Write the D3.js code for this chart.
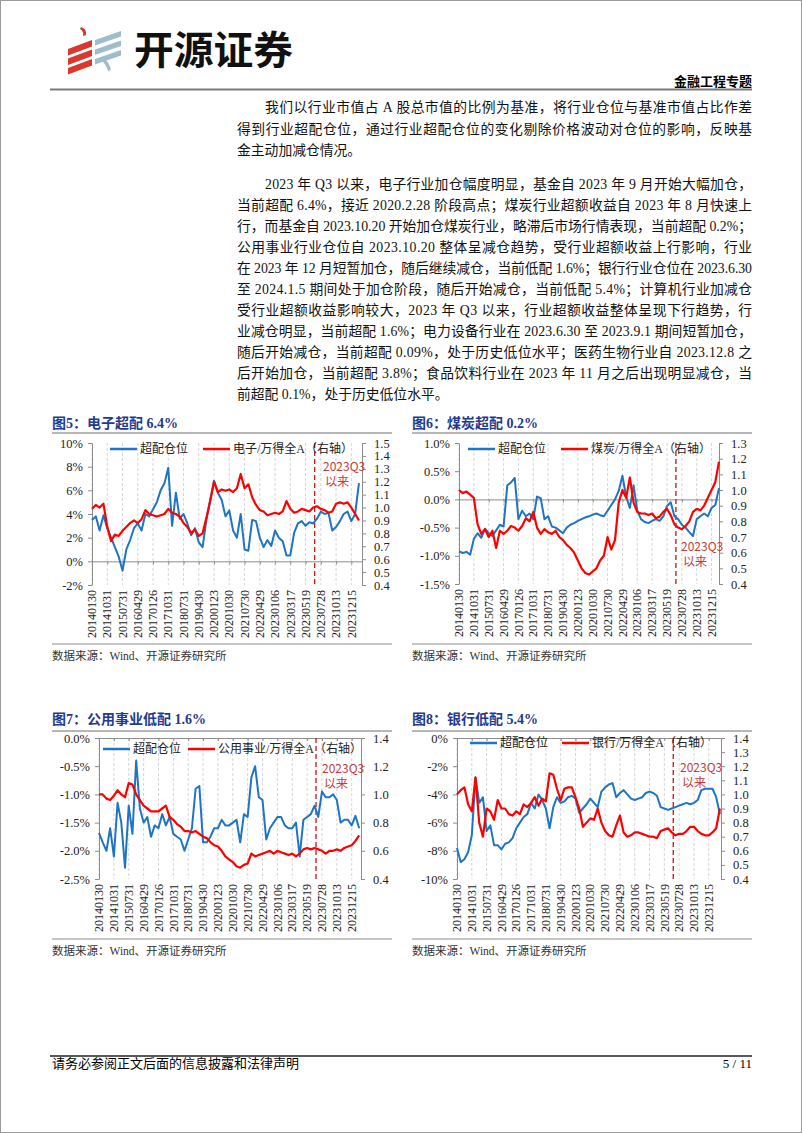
<!DOCTYPE html>
<html>
<head>
<meta charset="utf-8">
<style>
  body { margin: 0; background: #fff; }
  svg { display: block; font-family: "Liberation Serif", "Noto Sans CJK SC", serif; }
  .body-text { font-size: 13.8px; fill: #111; }
  .fig-title { font-family: "Liberation Serif", "Noto Sans CJK SC", serif; font-size: 14px; font-weight: bold; fill: #1f3a8f; }
  .axis .domain, .axis .tick line { stroke: #8c8c8c; }
  .axis .tick text { font-family: "Liberation Serif", serif; font-size: 12.5px; fill: #222; }
  .xlab { font-family: "Liberation Serif", serif; font-size: 12px; fill: #222; }
  .legend { font-size: 12px; fill: #222; }
  .note { font-family: "Noto Sans CJK SC", sans-serif; font-size: 12px; fill: #c43b3b; }
  .source { font-size: 11.5px; fill: #333; }
</style>
</head>
<body>
<svg width="802" height="1133"></svg>
<script src="https://cdn.jsdelivr.net/npm/d3@7"></script>
<script>
// category labels (every 4th point)
const xLabels = ["20140130", "20141031", "20150731", "20160429", "20170126", "20171031",
  "20180731", "20190430", "20200123", "20201030", "20210730", "20220429",
  "20230106", "20230317", "20230519", "20230728", "20231013", "20231215"];
const q3Index = 58.4; // 20230630

// 图5 电子
const elecPos = [3.5,3.8,2.6,3.9,2.8,2.0,1.2,0.4,-0.8,1.0,1.8,2.8,3.2,2.6,4.0,3.8,4.4,5.0,6.0,6.6,
  7.9,3.0,5.8,3.6,4.0,3.2,2.2,2.8,1.6,1.2,3.5,5.2,6.8,5.8,5.2,3.8,4.3,2.6,2.0,4.0,
  1.0,0.9,3.5,3.4,2.0,1.2,1.8,1.3,2.6,2.0,1.7,0.5,0.5,2.4,3.2,3.4,3.0,3.3,3.2,3.6,
  4.2,4.0,4.1,2.6,2.9,3.4,4.0,4.2,3.4,4.0,6.6];
const elecRel = [0.99,1.02,1.0,1.03,0.85,0.74,0.79,0.78,0.82,0.85,0.88,0.9,0.88,0.91,0.98,0.95,0.94,0.93,0.94,0.95,
  0.99,0.96,0.95,0.93,0.88,0.85,0.8,0.83,0.78,0.8,0.92,1.05,1.2,1.12,1.14,1.13,1.14,1.12,1.15,1.26,
  1.15,1.18,1.08,1.02,0.98,0.97,0.94,0.95,0.96,0.95,0.97,1.05,0.99,0.96,0.97,0.99,0.98,0.97,1.0,1.01,
  0.99,0.98,0.96,0.97,1.03,1.04,1.03,1.04,1.0,0.95,0.9];

// 图6 煤炭
const coalPos = [-0.92,-0.95,-0.93,-0.98,-0.7,-0.6,-0.68,-0.52,-0.6,-0.65,-0.55,-0.45,-0.48,0.25,0.3,0.38,-0.35,-0.2,-0.3,-0.25,
  -0.35,0.05,0.02,-0.35,-0.3,-0.48,-0.5,-0.55,-0.6,-0.5,-0.45,-0.42,-0.38,-0.35,-0.32,-0.3,-0.27,-0.25,-0.28,-0.3,
  -0.2,-0.1,0.0,0.15,0.42,0.05,-0.15,0.25,-0.2,-0.35,-0.4,-0.42,-0.38,-0.35,-0.38,-0.3,-0.12,-0.05,-0.3,-0.35,
  -0.45,-0.5,-0.58,-0.65,-0.35,-0.3,-0.25,-0.3,-0.15,-0.1,0.2];
const coalRel = [1.0,0.98,0.99,0.97,0.95,0.78,0.72,0.75,0.7,0.74,0.63,0.74,0.72,0.74,0.77,0.76,0.74,0.77,0.82,0.8,
  0.86,0.76,0.72,0.75,0.73,0.72,0.74,0.7,0.68,0.65,0.63,0.6,0.55,0.5,0.47,0.46,0.48,0.5,0.55,0.58,
  0.7,0.62,0.68,0.92,1.0,0.95,1.08,0.92,0.86,0.85,0.85,0.84,0.85,0.82,0.83,0.86,0.88,0.84,0.78,0.76,
  0.75,0.77,0.8,0.86,0.88,0.87,0.9,0.95,1.0,1.05,1.18];

// 图7 公用事业
const utilPos = [-1.68,-1.85,-2.0,-1.6,-2.1,-1.15,-1.5,-2.3,-1.2,-1.7,-0.4,-1.25,-1.5,-1.4,-1.75,-1.55,-1.6,-1.35,-1.55,-1.4,
  -1.7,-1.75,-1.8,-2.0,-1.8,-1.6,-0.9,-0.85,-1.85,-1.85,-1.75,-1.6,-1.6,-1.45,-1.55,-1.55,-1.5,-1.45,-1.85,-1.35,
  -1.4,-0.7,-0.5,-1.05,-1.1,-1.8,-1.6,-1.5,-1.4,-1.4,-1.55,-1.6,-1.6,-1.5,-2.1,-1.45,-1.4,-1.35,-1.2,-1.4,
  -0.95,-1.05,-1.05,-1.0,-1.1,-1.5,-1.45,-1.45,-1.55,-1.38,-1.6];
const utilRel = [1.0,1.0,0.97,0.96,0.99,1.03,1.0,0.98,1.08,1.07,1.0,0.96,0.92,0.9,0.88,0.88,0.88,0.9,0.92,0.84,
  0.82,0.79,0.77,0.74,0.74,0.73,0.74,0.72,0.7,0.69,0.66,0.64,0.63,0.6,0.56,0.54,0.52,0.49,0.48,0.5,
  0.51,0.58,0.56,0.57,0.58,0.59,0.6,0.58,0.6,0.59,0.58,0.57,0.58,0.56,0.58,0.61,0.62,0.61,0.62,0.61,
  0.6,0.58,0.6,0.6,0.61,0.6,0.62,0.63,0.64,0.67,0.71];

// 图8 银行
const bankPos = [-7.8,-8.8,-8.6,-8.1,-6.9,-2.8,-4.6,-4.2,-6.6,-6.2,-7.6,-7.6,-7.9,-7.5,-7.4,-7.1,-6.4,-6.0,-5.6,-5.4,
  -4.6,-5.0,-4.0,-4.4,-5.0,-6.4,-4.9,-4.2,-4.6,-4.5,-4.2,-4.1,-4.3,-5.3,-5.0,-4.7,-4.3,-4.6,-4.9,-3.8,
  -3.5,-3.3,-3.2,-4.2,-3.9,-3.7,-4.0,-4.3,-4.4,-4.3,-4.2,-3.9,-3.8,-3.9,-4.1,-4.9,-5.0,-5.1,-5.0,-4.9,
  -4.8,-4.7,-4.6,-4.7,-4.6,-4.4,-3.7,-3.6,-3.6,-3.6,-4.2,-5.4];
const bankRel = [1.0,1.03,1.05,0.93,0.88,1.12,0.8,0.7,0.9,0.88,0.82,0.96,0.9,0.9,0.86,0.85,0.88,0.86,0.93,0.91,
  0.94,0.98,0.92,0.97,0.95,1.15,1.14,1.04,0.96,1.04,1.05,1.05,0.98,0.9,0.77,0.8,0.83,0.82,0.9,0.8,
  0.74,0.71,0.7,0.78,0.85,0.73,0.7,0.71,0.73,0.73,0.72,0.71,0.7,0.7,0.69,0.74,0.75,0.76,0.73,0.71,
  0.72,0.72,0.74,0.77,0.77,0.74,0.72,0.71,0.71,0.73,0.76,0.9];

// axis ticks
const elecLTicks = [-2, 0, 2, 4, 6, 8, 10];
const elecRTicks = [0.4, 0.5, 0.6, 0.7, 0.8, 0.9, 1.0, 1.1, 1.2, 1.3, 1.4, 1.5];
const coalLTicks = [-1.5, -1.0, -0.5, 0.0, 0.5, 1.0];
const coalRTicks = [0.4, 0.5, 0.6, 0.7, 0.8, 0.9, 1.0, 1.1, 1.2, 1.3];
const utilLTicks = [-2.5, -2.0, -1.5, -1.0, -0.5, 0.0];
const utilRTicks = [0.4, 0.6, 0.8, 1.0, 1.2, 1.4];
const bankLTicks = [-10, -8, -6, -4, -2, 0];
const bankRTicks = [0.4, 0.5, 0.6, 0.7, 0.8, 0.9, 1.0, 1.1, 1.2, 1.3, 1.4];

const paraLines = [
  { t: "我们以行业市值占 A 股总市值的比例为基准，将行业仓位与基准市值占比作差", x: 265, y: 112, j: true },
  { t: "得到行业超配仓位，通过行业超配仓位的变化剔除价格波动对仓位的影响，反映基", x: 237, y: 133.5, j: true },
  { t: "金主动加减仓情况。", x: 237, y: 155, j: false },
  { t: "2023 年 Q3 以来，电子行业加仓幅度明显，基金自 2023 年 9 月开始大幅加仓，", x: 265, y: 189, j: true },
  { t: "当前超配 6.4%，接近 2020.2.28 阶段高点；煤炭行业超额收益自 2023 年 8 月快速上", x: 237, y: 210, j: true },
  { t: "行，而基金自 2023.10.20 开始加仓煤炭行业，略滞后市场行情表现，当前超配 0.2%；", x: 237, y: 231, j: true },
  { t: "公用事业行业仓位自 2023.10.20 整体呈减仓趋势，受行业超额收益上行影响，行业", x: 237, y: 252, j: true },
  { t: "在 2023 年 12 月短暂加仓，随后继续减仓，当前低配 1.6%；银行行业仓位在 2023.6.30", x: 237, y: 273, j: true },
  { t: "至 2024.1.5 期间处于加仓阶段，随后开始减仓，当前低配 5.4%；计算机行业加减仓", x: 237, y: 294, j: true },
  { t: "受行业超额收益影响较大，2023 年 Q3 以来，行业超额收益整体呈现下行趋势，行", x: 237, y: 315, j: true },
  { t: "业减仓明显，当前超配 1.6%；电力设备行业在 2023.6.30 至 2023.9.1 期间短暂加仓，", x: 237, y: 336, j: true },
  { t: "随后开始减仓，当前超配 0.09%，处于历史低位水平；医药生物行业自 2023.12.8 之", x: 237, y: 357, j: true },
  { t: "后开始加仓，当前超配 3.8%；食品饮料行业在 2023 年 11 月之后出现明显减仓，当", x: 237, y: 378, j: true },
  { t: "前超配 0.1%，处于历史低位水平。", x: 237, y: 399, j: false }
];

const svg = d3.select("svg");

// page frame
svg.append("rect").attr("x", 0.5).attr("y", 0.5).attr("width", 801).attr("height", 1132)
  .attr("fill", "none").attr("stroke", "#9a9a9a");

// logo
const logo = svg.append("g");
[0, 1, 2].forEach(i => {
  let y0 = 44 + i * 9.5;
  logo.append("path").attr("fill", "#d8392c")
    .attr("d", `M68,${y0 + 5} L92,${y0 - 4} L92,${y0 + 2.5} L68,${y0 + 11.5} Z`);
  let y1 = 35 + i * 9.5;
  logo.append("path").attr("fill", "#9fbccb")
    .attr("d", `M95,${y1 + 5} L121,${y1 - 4} L121,${y1 + 1.5} L95,${y1 + 10.5} Z`);
});
logo.append("path").attr("fill", "#d8392c").attr("d", "M81,27 Q87,29 86,35 L83,36 Q84,31 80,29 Z");
logo.append("path").attr("fill", "#9fbccb").attr("d", "M101,60 Q106,64 108,71 L111,70 Q109,62 104,58 Z");
svg.append("text").attr("x", 134).attr("y", 64)
  .style("font-family", "'Noto Sans CJK SC', sans-serif").style("font-weight", "bold").style("font-size", "39px")
  .attr("textLength", 159).attr("lengthAdjust", "spacingAndGlyphs").attr("fill", "#111").text("开源证券");

svg.append("text").attr("x", 752).attr("y", 86).attr("text-anchor", "end")
  .style("font-family", "'Noto Sans CJK SC', sans-serif").style("font-weight", "bold").style("font-size", "13px")
  .text("金融工程专题");
svg.append("line").attr("x1", 50).attr("x2", 752).attr("y1", 89.5).attr("y2", 89.5)
  .attr("stroke", "#7a7a7a").attr("stroke-width", 2);

// body text
svg.append("g").selectAll("text").data(paraLines).join("text")
  .attr("class", "body-text")
  .attr("x", d => d.x).attr("y", d => d.y)
  .attr("textLength", d => d.j ? 752 - d.x : null)
  .attr("lengthAdjust", "spacing")
  .text(d => d.t);

const pctInt = d => `${d}%`;
const pct1 = d => `${d.toFixed(1)}%`;
const dec1 = d => d.toFixed(1);

const charts = [
  { x0: 52, left: 92, right: 362, top: 443, bottom: 585, xMax: 70.8, titleY: 428, ruleY: 433,
    title: "图5：电子超配 6.4%", lDomain: [-2, 10], lTicks: elecLTicks, lFmt: pctInt,
    rDomain: [0.4, 1.5], rTicks: elecRTicks, legendY: 449, legendX: [110, 203],
    relName: "电子/万得全A（右轴）", note: [323, 467], sourceY: 644,
    pos: elecPos, rel: elecRel },
  { x0: 412, left: 459, right: 719, top: 443, bottom: 584, xMax: 70, titleY: 428, ruleY: 433,
    title: "图6：煤炭超配 0.2%", lDomain: [-1.5, 1.0], lTicks: coalLTicks, lFmt: pct1,
    rDomain: [0.4, 1.3], rTicks: coalRTicks, legendY: 449, legendX: [468, 561],
    relName: "煤炭/万得全A（右轴）", note: [681, 547], sourceY: 644,
    pos: coalPos, rel: coalRel },
  { x0: 52, left: 99, right: 361, top: 738, bottom: 879, xMax: 70.5, titleY: 724, ruleY: 731,
    title: "图7：公用事业低配 1.6%", lDomain: [-2.5, 0], lTicks: utilLTicks, lFmt: pct1,
    rDomain: [0.4, 1.4], rTicks: utilRTicks, legendY: 749, legendX: [103, 188],
    relName: "公用事业/万得全A（右轴）", note: [322, 769], sourceY: 939,
    pos: utilPos, rel: utilRel },
  { x0: 412, left: 457, right: 721, top: 738, bottom: 879, xMax: 71.3, titleY: 724, ruleY: 731,
    title: "图8：银行低配 5.4%", lDomain: [-10, 0], lTicks: bankLTicks, lFmt: pctInt,
    rDomain: [0.4, 1.4], rTicks: bankRTicks, legendY: 743, legendX: [470, 562],
    relName: "银行/万得全A（右轴）", note: [680, 768], sourceY: 939,
    pos: bankPos, rel: bankRel }
];

charts.forEach(c => {
  const g = svg.append("g");
  const x = d3.scaleLinear().domain([0, c.xMax]).range([c.left, c.right]);
  const yl = d3.scaleLinear().domain(c.lDomain).range([c.bottom, c.top]);
  const yr = d3.scaleLinear().domain(c.rDomain).range([c.bottom, c.top]);

  // title + rule
  g.append("text").attr("class", "fig-title").attr("x", c.x0).attr("y", c.titleY).text(c.title);
  g.append("line").attr("x1", c.x0).attr("x2", c.x0 + 340)
    .attr("y1", c.ruleY).attr("y2", c.ruleY).attr("stroke", "#6e6e6e");

  // dashed vertical grid
  g.append("g").selectAll("line").data(xLabels).join("line")
    .attr("x1", (d, i) => x(i * 4)).attr("x2", (d, i) => x(i * 4))
    .attr("y1", c.top).attr("y2", c.bottom)
    .attr("stroke", "#d6d6d6").attr("stroke-dasharray", "3,2");

  // category axis at zero
  g.append("g").attr("class", "axis").attr("transform", `translate(0,${yl(0)})`)
    .call(d3.axisBottom(x).tickValues(xLabels.map((d, i) => i * 4)).tickSize(3).tickSizeOuter(0).tickFormat(""));

  g.append("g").attr("class", "axis").attr("transform", `translate(${c.left},0)`)
    .call(d3.axisLeft(yl).tickValues(c.lTicks).tickSize(4).tickSizeOuter(0).tickPadding(5).tickFormat(c.lFmt));

  g.append("g").attr("class", "axis").attr("transform", `translate(${c.right},0)`)
    .call(d3.axisRight(yr).tickValues(c.rTicks).tickSize(4).tickSizeOuter(0).tickPadding(8).tickFormat(dec1));

  // x labels
  g.append("g").selectAll("text").data(xLabels).join("text")
    .attr("class", "xlab")
    .attr("transform", (d, i) => `translate(${x(i * 4)},${c.bottom + 5}) rotate(-90)`)
    .attr("dy", "0.35em").attr("text-anchor", "end")
    .text(d => d);

  // 2023Q3 marker
  g.append("line").attr("x1", x(q3Index)).attr("x2", x(q3Index))
    .attr("y1", c.top).attr("y2", c.bottom)
    .attr("stroke", "#c00000").attr("stroke-width", 1.2).attr("stroke-dasharray", "5,3");
  g.append("text").attr("class", "note").attr("x", c.note[0]).attr("y", c.note[1] + 4).text("2023Q3");
  g.append("text").attr("class", "note").attr("x", c.note[0] + 2).attr("y", c.note[1] + 19).text("以来");

  // series
  g.append("path").datum(c.pos)
    .attr("fill", "none").attr("stroke", "#1f74c4").attr("stroke-width", 2).attr("stroke-linejoin", "round")
    .attr("d", d3.line().x((d, i) => x(i)).y(d => yl(d)));
  g.append("path").datum(c.rel)
    .attr("fill", "none").attr("stroke", "#ff0000").attr("stroke-width", 2.2).attr("stroke-linejoin", "round")
    .attr("d", d3.line().x((d, i) => x(i)).y(d => yr(d)));

  // legend
  const lg = g.append("g");
  [["超配仓位", "#1f74c4"], [c.relName, "#ff0000"]].forEach((it, k) => {
    const lx = c.legendX[k];
    lg.append("line").attr("x1", lx).attr("x2", lx + 27).attr("y1", c.legendY).attr("y2", c.legendY)
      .attr("stroke", it[1]).attr("stroke-width", 2.5);
    lg.append("text").attr("class", "legend").attr("x", lx + 30).attr("y", c.legendY + 4).text(it[0]);
  });

  // source
  g.append("line").attr("x1", c.x0).attr("x2", c.x0 + 340)
    .attr("y1", c.sourceY).attr("y2", c.sourceY).attr("stroke", "#8c8c8c");
  g.append("text").attr("class", "source").attr("x", c.x0).attr("y", c.sourceY + 16)
    .text("数据来源：Wind、开源证券研究所");
});

// footer
svg.append("line").attr("x1", 50).attr("x2", 752).attr("y1", 1056).attr("y2", 1056)
  .attr("stroke", "#222").attr("stroke-width", 1.3);
svg.append("text").attr("x", 52).attr("y", 1068).style("font-size", "13px").text("请务必参阅正文后面的信息披露和法律声明");
svg.append("text").attr("x", 752).attr("y", 1068).attr("text-anchor", "end").style("font-size", "13px").text("5 / 11");
</script>
</body>
</html>
